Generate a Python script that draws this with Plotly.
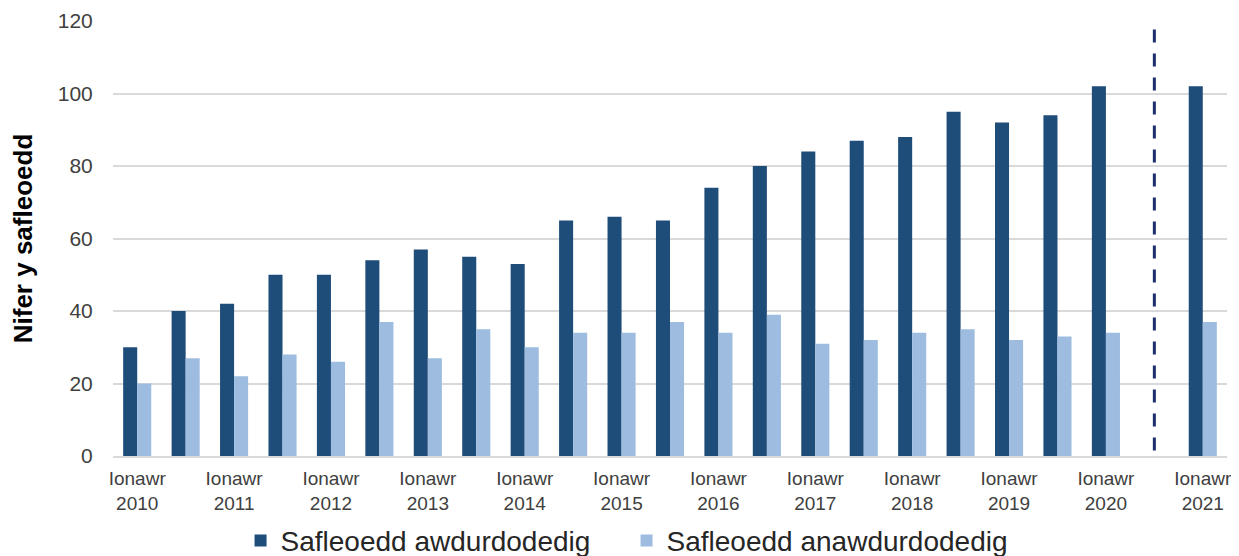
import plotly.graph_objects as go

# ---- data ----
periods = [
    "Ionawr 2010", "Gorffennaf 2010", "Ionawr 2011", "Gorffennaf 2011",
    "Ionawr 2012", "Gorffennaf 2012", "Ionawr 2013", "Gorffennaf 2013",
    "Ionawr 2014", "Gorffennaf 2014", "Ionawr 2015", "Gorffennaf 2015",
    "Ionawr 2016", "Gorffennaf 2016", "Ionawr 2017", "Gorffennaf 2017",
    "Ionawr 2018", "Gorffennaf 2018", "Ionawr 2019", "Gorffennaf 2019",
    "Ionawr 2020", " ", "Ionawr 2021",
]
authorised = [30, 40, 42, 50, 50, 54, 57, 55, 53, 65, 66, 65, 74, 80, 84, 87,
              88, 95, 92, 94, 102, None, 102]
unauthorised = [20, 27, 22, 28, 26, 37, 27, 35, 30, 34, 34, 37, 34, 39, 31, 32,
                34, 35, 32, 33, 34, None, 37]
series_names = ["Safleoedd awdurdodedig", "Safleoedd anawdurdodedig"]
tick_cats = [p for p in periods if p.startswith("Ionawr")]
tick_text = [p.replace(" ", "<br>") for p in tick_cats]
y_ticks = [0, 20, 40, 60, 80, 100, 120]
separator_cat = " "
y_title = "Nifer y safleoedd"

DARK = "#1F4D7A"
LIGHT = "#9DBCDF"
FONT = "Liberation Sans, Arial, sans-serif"

fig = go.Figure()
fig.add_trace(go.Bar(x=periods, y=authorised, name=series_names[0],
                     marker=dict(color=DARK, line=dict(width=0))))
fig.add_trace(go.Bar(x=periods, y=unauthorised, name=series_names[1],
                     marker=dict(color=LIGHT, line=dict(width=0))))

# dashed separator at the series break
fig.add_shape(type="line", xref="x", yref="y",
              x0=separator_cat, x1=separator_cat, y0=1.5, y1=118.5,
              line=dict(color="#1A2F6B", width=3, dash="13px,11px"))

fig.update_layout(
    width=1231, height=548,
    margin=dict(l=105, r=12, t=13, b=100, autoexpand=False),
    paper_bgcolor="white", plot_bgcolor="white",
    barmode="group", bargap=0.42, bargroupgap=0,
    font=dict(family=FONT, color="#404040"),
    showlegend=True,
    legend=dict(orientation="h", x=0.461, xanchor="center", xref="paper",
                y=-0.195, yanchor="middle",
                font=dict(size=28, color="#262626"),
                itemwidth=30, entrywidth=341, entrywidthmode="pixels",
                itemclick=False),
    xaxis=dict(type="category", categoryorder="array", categoryarray=periods,
               tickmode="array", tickvals=tick_cats, ticktext=tick_text,
               tickfont=dict(size=19, color="#404040"),
               showgrid=False, showline=True, linecolor="#D9D9D9", linewidth=2,
               ticks="outside", ticklen=4, tickcolor="rgba(0,0,0,0)",
               automargin=False, fixedrange=True),
    yaxis=dict(range=[0, 120], tickmode="array", tickvals=y_ticks,
               tickfont=dict(size=21, color="#404040"),
               showgrid=True, gridcolor="#D9D9D9", gridwidth=2,
               zeroline=False, showline=False,
               ticks="outside", ticklen=15, tickcolor="rgba(0,0,0,0)",
               title=dict(text="<b>" + y_title + "</b>",
                          font=dict(size=26, color="#000000"), standoff=33),
               automargin=False, fixedrange=True),
)

fig.write_html("out.html")
